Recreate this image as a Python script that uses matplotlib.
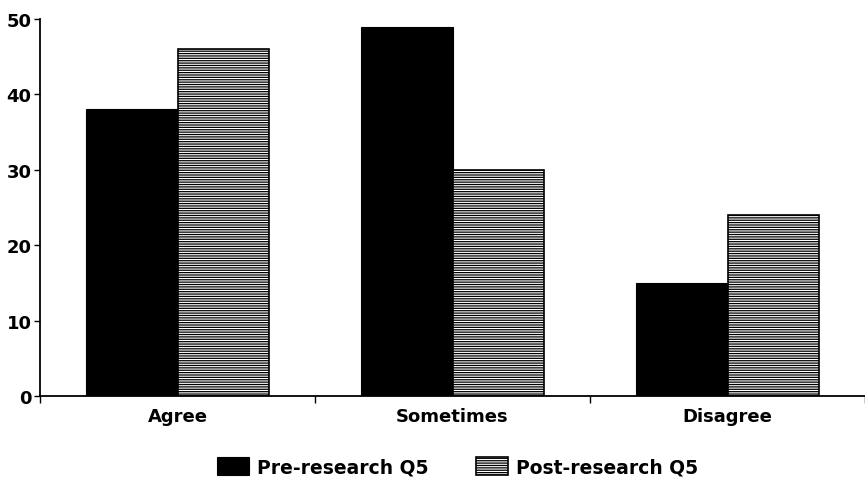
import matplotlib.pyplot as plt
import numpy as np

plt.rcParams['hatch.linewidth'] = 0.9

categories = ['Agree', 'Sometimes', 'Disagree']
pre_q5 = [38, 49, 15]
post_q5 = [46, 30, 24]
yticks = [0, 10, 20, 30, 40, 50]

fig = plt.figure(figsize=(8.65, 4.81), dpi=100)
ax = fig.add_axes([40 / 865, 1 - 397 / 481, 1 - 40 / 865, 377 / 481])

x = np.arange(len(categories))
w = 0.332
ax.bar(x - w / 2, pre_q5, w, color='black', edgecolor='black', linewidth=0.8,
       label='Pre-research Q5')
ax.bar(x + w / 2, post_q5, w, color='white', edgecolor='black', linewidth=1.2,
       hatch='-------', label='Post-research Q5')

ax.set_xlim(-0.5, len(categories) - 0.53)
ax.set_ylim(0, 50)
ax.set_yticks(yticks)
ax.set_yticklabels([str(t) for t in yticks], fontsize=13, fontweight='heavy')

# category ticks sit on the boundaries, labels in the middle
ax.set_xticks(np.arange(len(categories) + 1) - 0.5)
ax.set_xticklabels([])
ax.set_xticks(x, minor=True)
ax.set_xticklabels(categories, minor=True, fontsize=13, fontweight='heavy')
ax.tick_params(axis='x', which='minor', length=0, pad=8)
ax.tick_params(axis='x', which='major', length=5, width=1, direction='out')
ax.tick_params(axis='y', length=4, width=1, pad=2)

for side in ['top', 'right']:
    ax.spines[side].set_visible(False)
ax.spines['left'].set_linewidth(1.3)
ax.spines['bottom'].set_linewidth(1.3)

fig.legend(loc='center', bbox_to_anchor=(0.529, 1 - 468 / 481), ncol=2, frameon=False,
           prop={'weight': 'heavy', 'size': 13.5}, handlelength=1.7, handleheight=1.1,
           columnspacing=2.5, handletextpad=0.45)

fig.savefig('out.png', dpi=100)
